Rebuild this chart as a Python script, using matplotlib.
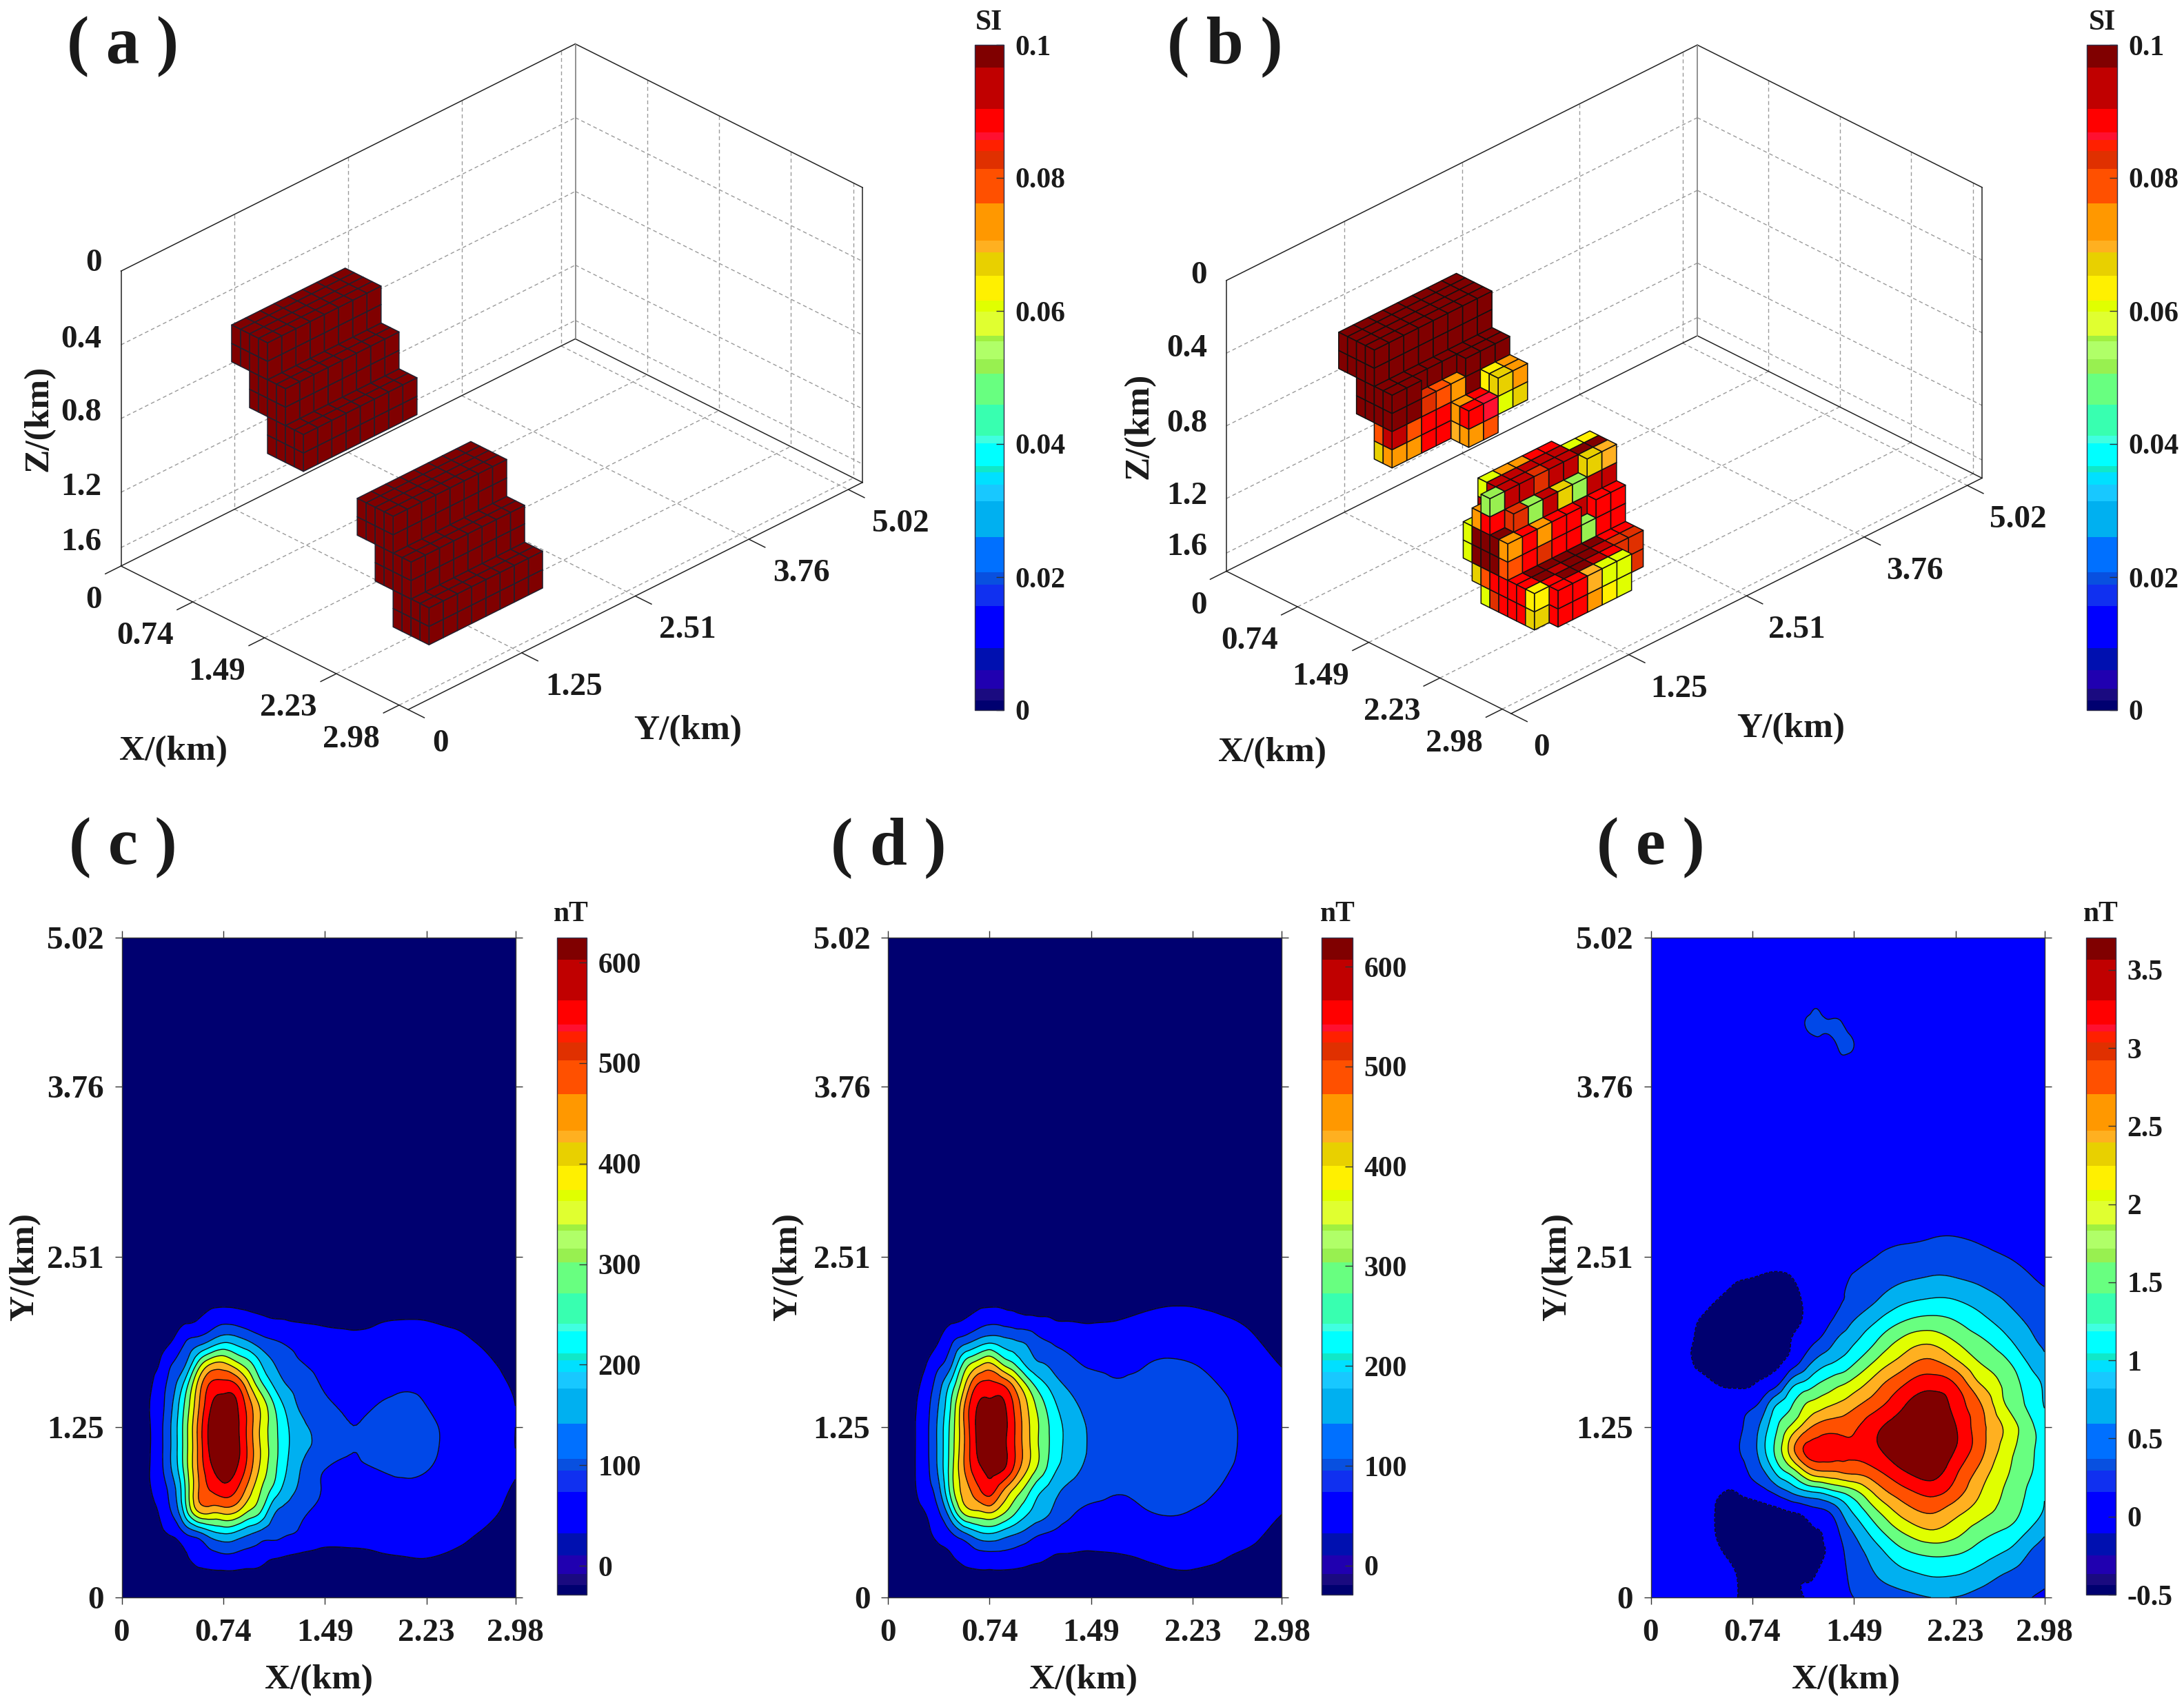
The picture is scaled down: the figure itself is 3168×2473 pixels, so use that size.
import numpy as np
import matplotlib
matplotlib.use('Agg')
import matplotlib.pyplot as plt
from matplotlib.cm import ScalarMappable
from matplotlib.colors import BoundaryNorm, ListedColormap
from matplotlib.tri import Triangulation, UniformTriRefiner
from mpl_toolkits.mplot3d import proj3d
from mpl_toolkits.mplot3d.art3d import Poly3DCollection

plt.rcParams['font.family'] = ['Liberation Serif', 'DejaVu Serif']
plt.rcParams['font.weight'] = 'bold'

W, H = 3168, 2473

# colour bands of the colorbars (fraction of the bar, bottom to top)
band_edges = [0, .015, .032, .060, .093, .156, .189, .207, .260, .314, .339, .357, .367, .401, .412, .459, .506,
              .527, .554, .563, .599, .616, .653, .688, .706, .762, .813, .840, .857, .868, .904, .966, 1]
band_colors = ['#000070', '#1a0a80', '#2000b0', '#0010b0', '#0000ff', '#1030f0', '#0850e0', '#0070ff',
               '#00b0f0', '#18c8ff', '#00e0ff', '#10e8c8', '#00ffff', '#40ffe0', '#38ffb0', '#68ff80',
               '#98f050', '#b0ff68', '#a0f040', '#e0ff30', '#e0ff00', '#fff000', '#e8d000', '#ffb020',
               '#ff9800', '#ff5000', '#e03000', '#ff2000', '#ff1030', '#ff0000', '#c00000', '#800000']
fill_colors = ['#000070', '#0000ff', '#0048e8', '#00b0f0', '#00ffff', '#68ff80',
               '#e0ff00', '#ffb020', '#ff5000', '#ff0000', '#800000']

# tick positions are grid cells, labels are km
xy_ticks = [0, 8, 16, 24, 31]
x_labels = ['0', '0.74', '1.49', '2.23', '2.98']
y_labels = ['0', '1.25', '2.51', '3.76', '5.02']
z_ticks = [0, 4, 8, 12, 15]
z_labels = ['0', '0.4', '0.8', '1.2', '1.6']

# true model (a): (i0, i1, j0, j1, k0, k1, SI)
model_a = [(6, 10, 4, 12, 3, 5, .1), (8, 12, 4, 12, 5, 7, .1), (10, 14, 4, 12, 7, 9, .1),
           (20, 24, 4, 12, 9, 11, .1), (22, 26, 4, 12, 11, 13, .1), (24, 28, 4, 12, 13, 15, .1)]

# recovered model (b): boxes first, then single cells (i, j, k, SI), SI 0 = empty
model_b_boxes = [(6, 10, 4, 12, 3, 5, .1), (8, 12, 4, 6, 5, 7, .1), (8, 11, 6, 9, 5, 7, .1), (8, 12, 9, 12, 5, 7, .1),
                 (10, 12, 4, 8, 7, 9, .088), (11, 12, 7, 10, 7, 8, .088), (12, 14, 8, 10, 7, 9, .088),
                 (12, 14, 10, 12, 6, 8, .067),
                 (21, 23, 5, 10, 9, 14, .093), (20, 21, 5, 10, 9, 12, .093),
                 (21, 23, 5, 10, 8, 9, .093), (20, 21, 8, 10, 8, 9, .088), (21, 24, 10, 12, 8, 9, .097),
                 (21, 24, 10, 12, 9, 14, .093), (23, 24, 5, 10, 9, 14, .093),
                 (24, 25, 5, 12, 10, 14, .088), (24, 25, 4, 5, 10, 12, .088), (25, 29, 5, 10, 12, 14, .088),
                 (25, 26, 10, 12, 12, 14, .088), (26, 27, 10, 12, 12, 14, .082), (21, 28, 4, 5, 12, 14, .088),
                 (20, 21, 4, 5, 10, 12, .061), (21, 24, 4, 5, 10, 12, .097)]
model_b_cells = [(10, 7, 6, .088), (11, 6, 6, .082), (11, 7, 6, .08), (11, 8, 6, .073),
                 (10, 4, 7, .08), (11, 4, 7, .093), (10, 4, 8, .067), (11, 4, 8, .075),
                 (11, 5, 7, .078), (11, 5, 8, .073), (12, 8, 7, .073), (13, 8, 7, .088),
                 (12, 8, 8, .069), (13, 8, 8, .073), (13, 9, 7, .086), (13, 9, 8, .08),
                 (13, 10, 6, .067), (13, 11, 6, .073), (13, 10, 7, .061), (13, 11, 7, .067),
                 (12, 10, 6, .065), (12, 10, 7, .067), (12, 11, 6, .073),
                 (20, 5, 8, .061), (20, 6, 8, .075), (20, 7, 8, .075), (23, 10, 8, .067), (23, 11, 8, .069),
                 (21, 10, 8, .061), (21, 11, 8, .063), (22, 7, 8, .082),
                 (23, 5, 9, .082), (23, 6, 9, .052), (23, 8, 9, .067), (23, 9, 9, .052),
                 (24, 6, 10, .072), (24, 6, 11, .082), (24, 9, 10, 0), (24, 9, 11, .052),
                 (28, 7, 12, .069), (28, 8, 12, .061), (28, 9, 12, .061),
                 (28, 7, 13, .073), (28, 8, 13, .063), (28, 9, 13, .061),
                 (25, 5, 12, .097), (25, 6, 12, .097), (25, 7, 12, .097), (25, 8, 12, .097), (25, 9, 12, .097),
                 (26, 5, 12, .097), (26, 6, 12, .093), (26, 7, 12, .097), (26, 8, 12, .097), (26, 9, 12, .093),
                 (27, 6, 12, .097), (27, 7, 12, .097), (27, 8, 12, .093),
                 (21, 4, 13, 0), (21, 4, 12, .066), (22, 4, 12, .078), (22, 4, 13, .061), (23, 4, 13, .082),
                 (27, 4, 12, .063), (27, 4, 13, .067), (21, 4, 9, .075), (22, 4, 9, .088), (22, 4, 8, .052),
                 (24, 4, 10, .073), (24, 4, 11, .08)]

# grid nodes of the maps
x_nodes = [0, 2, 3, 4, 5, 6, 7, 8, 9, 10, 11, 12, 13, 14, 16, 18, 20, 22, 24, 26, 28, 31]
y_nodes = [0, 1, 2, 3, 4, 5, 6, 7, 8, 9, 10, 11, 12, 13, 14, 16, 31]

# observed anomaly (c), nT
levels_c = [-50, 34, 93, 152, 211, 270, 329, 388, 447, 506, 565, 700]
field_c = [
    [2, 3, 4, 5, 6, 7, 8, 8, 8, 8, 8, 8, 8, 7, 7, 8, 10, 11, 12, 11, 9, 6],
    [3, 5, 7, 10, 13, 16, 18, 19, 19, 18, 17, 15, 14, 13, 13, 15, 18, 21, 21, 17, 12, 7],
    [5, 8, 14, 22, 30, 50, 76, 88, 84, 72, 58, 44, 36, 30, 26, 28, 31, 35, 37, 30, 21, 11],
    [8, 16, 26, 40, 92, 132, 185, 211, 196, 160, 130, 112, 98, 83, 50, 48, 52, 58, 58, 50, 34, 17],
    [12, 24, 38, 100, 235, 380, 398, 403, 388, 320, 262, 160, 131, 108, 75, 68, 70, 75, 74, 64, 48, 24],
    [15, 28, 55, 125, 270, 440, 506, 534, 506, 415, 325, 246, 180, 140, 87, 76, 77, 82, 82, 70, 54, 30],
    [18, 28, 73, 160, 294, 447, 550, 600, 567, 475, 368, 286, 210, 155, 93, 86, 92, 100, 94, 78, 60, 36],
    [15, 25, 75, 166, 300, 452, 580, 622, 590, 490, 380, 294, 222, 172, 130, 95, 105, 108, 101, 82, 62, 34],
    [15, 25, 75, 166, 300, 455, 585, 625, 585, 485, 375, 290, 220, 170, 128, 94, 104, 108, 101, 82, 62, 34],
    [12, 28, 70, 152, 282, 432, 560, 600, 575, 476, 372, 272, 194, 147, 105, 86, 93, 99, 93, 78, 60, 34],
    [12, 22, 62, 129, 235, 400, 515, 529, 510, 398, 284, 202, 151, 130, 87, 76, 80, 88, 86, 72, 56, 30],
    [8, 16, 36, 93, 145, 280, 380, 395, 345, 288, 208, 152, 122, 98, 72, 60, 62, 68, 68, 60, 45, 22],
    [6, 12, 24, 38, 92, 125, 165, 205, 190, 158, 120, 100, 84, 70, 50, 42, 46, 50, 50, 44, 33, 17],
    [4, 8, 12, 18, 26, 36, 60, 78, 72, 58, 46, 38, 35, 31, 28, 27, 30, 35, 34, 28, 20, 10],
    [3, 5, 7, 10, 13, 17, 19, 20, 20, 19, 17, 15, 13, 12, 10, 9, 10, 11, 11, 9, 7, 5],
    [1, 2, 3, 4, 5, 6, 6, 6, 6, 6, 5, 5, 4, 4, 3, 3, 3, 3, 3, 3, 2, 1],
    [0] * 22]

# predicted anomaly (d), nT
levels_d = [-50, 35, 95, 155, 215, 275, 335, 395, 455, 515, 575, 700]
field_d = [
    [2, 4, 5, 6, 8, 9, 10, 10, 10, 10, 10, 9, 9, 8, 9, 10, 12, 15, 16, 15, 12, 8],
    [3, 7, 10, 13, 17, 20, 22, 23, 22, 21, 20, 18, 16, 15, 15, 17, 22, 29, 30, 26, 18, 10],
    [4, 10, 17, 26, 34, 52, 75, 80, 80, 72, 58, 46, 36, 33, 30, 33, 40, 48, 50, 42, 30, 15],
    [7, 16, 26, 48, 90, 145, 195, 215, 190, 160, 130, 100, 85, 72, 60, 60, 68, 76, 76, 66, 50, 25],
    [10, 22, 37, 90, 212, 350, 382, 400, 350, 282, 222, 183, 145, 110, 83, 82, 91, 98, 93, 80, 60, 36],
    [14, 28, 65, 137, 302, 419, 490, 538, 460, 374, 294, 220, 180, 143, 115, 98, 104, 112, 108, 94, 74, 46],
    [17, 30, 77, 168, 314, 452, 551, 590, 580, 494, 393, 308, 232, 189, 140, 117, 118, 122, 118, 104, 84, 52],
    [15, 30, 79, 172, 305, 453, 578, 625, 600, 515, 415, 325, 255, 205, 148, 125, 128, 130, 128, 115, 88, 55],
    [14, 30, 78, 172, 300, 455, 585, 635, 605, 515, 410, 325, 255, 205, 147, 126, 128, 130, 128, 115, 88, 56],
    [10, 28, 72, 158, 284, 451, 573, 595, 590, 501, 395, 304, 233, 185, 135, 120, 122, 125, 122, 108, 82, 50],
    [6, 22, 56, 131, 237, 381, 513, 533, 514, 431, 322, 239, 188, 150, 115, 100, 105, 110, 108, 95, 74, 44],
    [4, 14, 33, 81, 145, 287, 360, 400, 327, 268, 194, 158, 134, 110, 88, 86, 92, 99, 95, 82, 60, 33],
    [3, 10, 18, 36, 88, 135, 175, 205, 185, 165, 145, 108, 90, 80, 65, 63, 72, 76, 74, 64, 46, 24],
    [2, 7, 12, 20, 28, 38, 60, 78, 72, 60, 52, 44, 38, 34, 31, 35, 44, 48, 47, 42, 32, 15],
    [2, 4, 6, 9, 13, 17, 21, 22, 23, 23, 22, 20, 18, 16, 14, 16, 24, 30, 30, 24, 17, 9],
    [1, 2, 3, 4, 5, 6, 7, 7, 7, 7, 7, 6, 6, 5, 5, 5, 7, 8, 8, 7, 5, 3],
    [0] * 22]

# residual (e), nT
x_nodes_e = [0, 2, 4, 6, 7, 8, 9, 10, 11, 12, 13, 14, 15, 16, 18, 20, 22, 24, 26, 28, 30, 31]
y_nodes_e = [0, 1, 2, 3, 4, 5, 6, 7, 8, 9, 10, 11, 12, 13, 14, 15, 16, 17, 18, 20, 25, 26, 27, 28, 31]
levels_e = [-1, -.116, .268, .652, 1.036, 1.42, 1.804, 2.188, 2.572, 2.956, 3.34, 4]
field_e = [
    [.03, .03, .02, -.05, -.13, -.2, -.2, -.18, -.14, -.12, 0, .1, .18, .27, .40, .53, .65, .64, .5, .38, .27, .2],
    [.04, .03, 0, -.05, -.14, -.22, -.24, -.22, -.17, -.13, -.11, .05, .2, .35, .68, .91, 1.04, 1.02, .84, .6, .42, .35],
    [.05, .03, 0, -.13, -.2, -.27, -.29, -.27, -.22, -.18, -.14, -.08, .19, .45, .9, 1.3, 1.46, 1.42, 1.2, .96, .58, .46],
    [.05, .03, -.03, -.2, -.28, -.33, -.34, -.33, -.28, -.2, -.14, -.03, .32, .66, 1.3, 1.81, 2.08, 1.9, 1.55, 1.32, .92, .7],
    [.05, .02, -.05, -.18, -.27, -.3, -.28, -.22, -.13, -.03, .13, .25, .65, 1.08, 1.8, 2.36, 2.6, 2.31, 1.95, 1.65, 1.2, 1.0],
    [.06, .05, -.03, -.12, -.08, .05, .2, .45, .72, .98, 1.12, 1.3, 1.5, 1.73, 2.41, 2.86, 3.1, 2.78, 2.2, 1.75, 1.3, 1.05],
    [.06, .05, .02, .02, .12, .39, .71, 1.24, 1.65, 2.2, 2.6, 2.65, 2.7, 2.75, 2.98, 3.37, 3.55, 3.06, 2.45, 1.87, 1.44, 1.2],
    [.06, .05, .04, .05, .27, .5, 1.03, 1.6, 2.34, 2.96, 3.1, 3.13, 3.05, 3.0, 3.33, 3.65, 3.72, 3.34, 2.7, 2.0, 1.48, 1.3],
    [.06, .05, .05, .08, .21, .45, .9, 1.42, 1.86, 2.32, 2.67, 2.8, 2.82, 2.9, 3.3, 3.62, 3.72, 3.36, 2.7, 2.1, 1.48, 1.25],
    [.05, .05, .06, .1, .15, .22, .55, 1.1, 1.38, 1.78, 2.0, 2.17, 2.3, 2.5, 2.9, 3.34, 3.6, 3.2, 2.6, 1.8, 1.3, 1.02],
    [.03, 0, -.02, -.16, -.18, -.13, 0, .24, .86, 1.15, 1.4, 1.6, 1.78, 1.98, 2.5, 2.96, 3.2, 2.96, 2.19, 1.7, 1.2, .98],
    [.02, -.02, -.17, -.26, -.28, -.26, -.2, -.14, .05, .4, .78, 1.0, 1.15, 1.4, 1.97, 2.43, 2.69, 2.33, 1.8, 1.5, .95, .75],
    [.02, -.02, -.16, -.25, -.28, -.3, -.28, -.22, -.12, .05, .27, .5, .8, 1.0, 1.5, 1.95, 2.12, 1.81, 1.5, 1.15, .72, .6],
    [.02, -.02, -.13, -.26, -.3, -.33, -.33, -.3, -.22, -.1, .04, .23, .4, .66, 1.07, 1.42, 1.55, 1.42, 1.15, .85, .58, .47],
    [.02, 0, -.04, -.16, -.22, -.28, -.3, -.27, -.2, -.1, .03, .15, .26, .35, .67, .95, 1.06, 1.03, .85, .62, .42, .35],
    [.03, .03, .02, -.06, -.1, -.12, -.16, -.17, -.13, -.06, 0, .08, .18, .3, .44, .6, .68, .66, .55, .42, .28, .22],
    [.04, .04, .04, .03, .02, .01, .01, 0, 0, .01, .02, .04, .08, .14, .29, .38, .44, .44, .36, .27, .18, .14],
    [.05, .05, .05, .05, .05, .05, .05, .05, .05, .05, .05, .06, .07, .09, .15, .2, .24, .26, .2, .14, .1, .08],
    [.05, .05, .05, .05, .05, .05, .05, .05, .05, .05, .05, .05, .05, .05, .06, .08, .1, .11, .09, .07, .06, .05],
    [.05] * 22,
    [.05, .05, .05, .05, .05, .05, .05, .05, .05, .05, .1, .14, .2, .14, .05, .05, .05, .05, .05, .05, .05, .05],
    [.05, .05, .05, .05, .05, .05, .05, .05, .05, .08, .2, .2, .33, .27, .05, .05, .05, .05, .05, .05, .05, .05],
    [.05, .05, .05, .05, .05, .05, .05, .05, .05, .24, .34, .29, .28, .1, .05, .05, .05, .05, .05, .05, .05, .05],
    [.05, .05, .05, .05, .05, .05, .05, .05, .05, .08, .2, .1, .1, .05, .05, .05, .05, .05, .05, .05, .05, .05],
    [.05] * 22]

TICK_FS = 34
LABEL_FS = 37
CB_FS = 30
UNIT_FS = 30
PANEL_FS = 70
DARK = '#1a1a1a'


def put_text(px, py, s, fs=LABEL_FS, **kw):
    kw.setdefault('ha', 'center')
    kw.setdefault('va', 'center')
    kw.setdefault('color', DARK)
    kw.setdefault('fontweight', 'bold')
    return plt.gcf().text(px / W, 1 - py / H, s, fontsize=fs, **kw)


def add_px_axes(left, top, right, bottom, **kw):
    return plt.gcf().add_axes([left / W, 1 - bottom / H, (right - left) / W, (bottom - top) / H], **kw)


def si_color(v):
    frac = np.searchsorted(band_edges, v / 0.1, side='right') - 1
    return band_colors[min(frac, len(band_colors) - 1)]


def build_model(boxes, cells=()):
    si = np.zeros((32, 32, 16))
    for i0, i1, j0, j1, k0, k1, v in boxes:
        si[i0:i1, j0:j1, k0:k1] = v
    for i, j, k, v in cells:
        si[i, j, k] = v
    return si


def voxel_faces(si):
    # only the three faces turned to the viewer: +x, -y and the top
    verts, cols = [], []
    for i, j, k in zip(*np.nonzero(si)):
        c = si_color(si[i, j, k])
        if i == 31 or si[i + 1, j, k] == 0:
            verts.append([(i + 1, j, k), (i + 1, j + 1, k), (i + 1, j + 1, k + 1), (i + 1, j, k + 1)])
            cols.append(c)
        if j == 0 or si[i, j - 1, k] == 0:
            verts.append([(i, j, k), (i + 1, j, k), (i + 1, j, k + 1), (i, j, k + 1)])
            cols.append(c)
        if k == 0 or si[i, j, k - 1] == 0:
            verts.append([(i, j, k), (i + 1, j, k), (i + 1, j + 1, k), (i, j + 1, k)])
            cols.append(c)
    return verts, cols


def to_px(ax, x, y, z):
    xp, yp, _ = proj3d.proj_transform(x, y, z, ax.get_proj())
    return ax.transData.transform((xp, yp))


def panel_3d(si, aspect, origin, far, edge, z_offs, x_off, y_off):
    fig = plt.gcf()
    ax = fig.add_axes([0, 0, 1300 / W, 1300 / H], projection='3d')
    ax.set_proj_type('ortho')
    ax.view_init(elev=30, azim=-45)
    ax.set_box_aspect(aspect)
    ax.computed_zorder = False
    ax.set_axis_off()
    verts, cols = voxel_faces(si)
    poly = Poly3DCollection(verts, facecolors=cols, edgecolors=edge, linewidths=1.1, zorder=3)
    ax.add_collection3d(poly)
    ax.set_xlim(0, 32)
    ax.set_ylim(0, 32)
    ax.set_zlim(16, 0)

    # scale and shift the box onto its place in the figure
    ax.apply_aspect()
    a = to_px(ax, 0, 0, 16)
    b = to_px(ax, 32, 32, 0)
    size = 1300 * (far[0] - origin[0]) / (b[0] - a[0])
    ax.set_position([0, 0, size / W, size / H])
    ax.apply_aspect()
    a = to_px(ax, 0, 0, 16)
    ax.set_position([(origin[0] - a[0]) / W, (H - origin[1] - a[1]) / H, size / W, size / H])
    ax.apply_aspect()

    grid = dict(color='#9a9a9a', lw=1.0, ls=(0, (4, 3)), zorder=1)
    for t in xy_ticks[1:]:
        ax.plot([0, 0], [t, t], [0, 16], **grid)
        ax.plot([t, t], [32, 32], [0, 16], **grid)
        ax.plot([0, 32], [t, t], [16, 16], **grid)
        ax.plot([t, t], [0, 32], [16, 16], **grid)
    for t in z_ticks[1:]:
        ax.plot([0, 0], [0, 32], [t, t], **grid)
        ax.plot([0, 32], [32, 32], [t, t], **grid)

    frame = dict(color='#222222', lw=1.1, zorder=2)
    for xs, ys, zs in [([0, 32], [0, 0], [16, 16]), ([32, 32], [0, 32], [16, 16]),
                       ([0, 32], [32, 32], [16, 16]), ([0, 0], [0, 32], [16, 16]),
                       ([0, 0], [0, 32], [0, 0]), ([0, 32], [32, 32], [0, 0]),
                       ([0, 0], [0, 0], [0, 16]), ([32, 32], [32, 32], [0, 16])]:
        ax.plot(xs, ys, zs, **frame)
    ax.plot([0, 0], [32, 32], [0, 16], color='#888888', lw=1.3, zorder=2)
    for t in xy_ticks:
        ax.plot([t, t], [0, -1.1], [16, 16], **frame)
        ax.plot([32, 33.8], [t, t], [16, 16], **frame)

    for t, lab, off in zip(z_ticks, z_labels, z_offs):
        p = to_px(ax, 0, 0, t)
        put_text(p[0] - 28, H - p[1] - off, lab, TICK_FS, ha='right')
    for t, lab in zip(xy_ticks, x_labels):
        p = to_px(ax, t, 0, 16)
        put_text(p[0] + x_off[0], H - p[1] + x_off[1], lab, TICK_FS, ha='right')
    for t, lab in zip(xy_ticks, y_labels):
        p = to_px(ax, 32, t, 16)
        put_text(p[0] + y_off[0], H - p[1] + y_off[1], lab, TICK_FS, ha='left')
    return ax


def add_bar(left, top, right, bottom, vmin, vmax, ticks, labels, unit, unit_x, unit_y):
    cax = add_px_axes(left, top, right, bottom)
    bounds = [vmin + f * (vmax - vmin) for f in band_edges]
    norm = BoundaryNorm(bounds, len(band_colors))
    sm = ScalarMappable(norm=norm, cmap=ListedColormap(band_colors))
    cb = plt.gcf().colorbar(sm, cax=cax, spacing='proportional', ticks=ticks)
    cb.set_ticklabels(labels)
    cb.minorticks_off()
    cb.outline.set_linewidth(1.0)
    cb.outline.set_edgecolor('#30304a')
    cax.tick_params(axis='y', direction='in', length=8, width=1, pad=12, labelsize=CB_FS,
                    labelcolor=DARK, color='#333333')
    put_text(unit_x, unit_y, unit, UNIT_FS)
    return cb


def panel_map(left, x, y, z, levels):
    ax = add_px_axes(left, 1360, left + 571, 2317)
    xx, yy = np.meshgrid(x, y)
    tri = Triangulation(xx.ravel(), yy.ravel())
    # refined field so the contours run smooth between the read nodes
    tri_fine, z_fine = UniformTriRefiner(tri).refine_field(np.ravel(z), subdiv=3)
    ax.tricontourf(tri_fine, z_fine, levels=levels, colors=fill_colors)
    ax.tricontour(tri_fine, z_fine, levels=levels[1:-1], colors='#101010', linewidths=1.0)
    ax.set_xlim(0, 31)
    ax.set_ylim(0, 31)
    ax.set_xticks(xy_ticks, x_labels)
    ax.set_yticks(xy_ticks, y_labels)
    ax.tick_params(direction='out', length=7.5, width=1, top=True, right=True, labelsize=TICK_FS,
                   labelcolor=DARK, color='#333333')
    ax.tick_params(axis='x', pad=15)
    ax.tick_params(axis='y', pad=11)
    for sp in ax.spines.values():
        sp.set_linewidth(1.0)
        sp.set_color('#333333')
    return ax


fig = plt.figure(figsize=(W / 100, H / 100), dpi=100, facecolor='white')

# (a)
panel_3d(build_model(model_a), (589, 932, 494), (175.5, 821), (1251, 272), '#20202e',
         [11, 7, 8, 7, 7], (-28, 50), (35, 50))
add_bar(1414, 65, 1456, 1030, 0, 0.1, [0, .02, .04, .06, .08, .1],
        ['0', '0.02', '0.04', '0.06', '0.08', '0.1'], 'SI', 1434, 33)
put_text(178, 68, '( a )', PANEL_FS)
put_text(252, 1090, 'X/(km)')
put_text(998, 1060, 'Y/(km)')
put_text(57, 607, 'Z/(km)', rotation=90)

# (b)
panel_3d(build_model(model_b_boxes, model_b_cells), (584, 966, 487), (1779, 828.5), (2875, 269), '#111111',
         [7, 6, 3, 3, 8], (-28, 50), (32, 50))
add_bar(3027, 65, 3071, 1030, 0, 0.1, [0, .02, .04, .06, .08, .1],
        ['0', '0.02', '0.04', '0.06', '0.08', '0.1'], 'SI', 3049, 33)
put_text(1777, 68, '( b )', PANEL_FS)
put_text(1845, 1092, 'X/(km)')
put_text(2598, 1057, 'Y/(km)')
put_text(1653, 618, 'Z/(km)', rotation=90)

# (c)
panel_map(176.5, x_nodes, y_nodes, field_c, levels_c)
add_bar(808, 1360, 851, 2313, -28.8, 624.7, [0, 100, 200, 300, 400, 500, 600],
        ['0', '100', '200', '300', '400', '500', '600'], 'nT', 828, 1326)
put_text(178, 1230, '( c )', PANEL_FS)
put_text(462, 2437, 'X/(km)')
put_text(36, 1838, 'Y/(km)', rotation=90)

# (d)
panel_map(1288, x_nodes, y_nodes, field_d, levels_d)
add_bar(1917, 1360, 1962, 2313, -29, 629, [0, 100, 200, 300, 400, 500, 600],
        ['0', '100', '200', '300', '400', '500', '600'], 'nT', 1940, 1326)
put_text(1289, 1230, '( d )', PANEL_FS)
put_text(1572, 2437, 'X/(km)')
put_text(1143, 1838, 'Y/(km)', rotation=90)

# (e)
panel_map(2394.5, x_nodes_e, y_nodes_e, field_e, levels_e)
add_bar(3026, 1360, 3069, 2313, -0.5, 3.707, [-.5, 0, .5, 1, 1.5, 2, 2.5, 3, 3.5],
        ['-0.5', '0', '0.5', '1', '1.5', '2', '2.5', '3', '3.5'], 'nT', 3047, 1326)
put_text(2394, 1230, '( e )', PANEL_FS)
put_text(2677, 2437, 'X/(km)')
put_text(2259, 1838, 'Y/(km)', rotation=90)

fig.savefig('out.png', dpi=100)
